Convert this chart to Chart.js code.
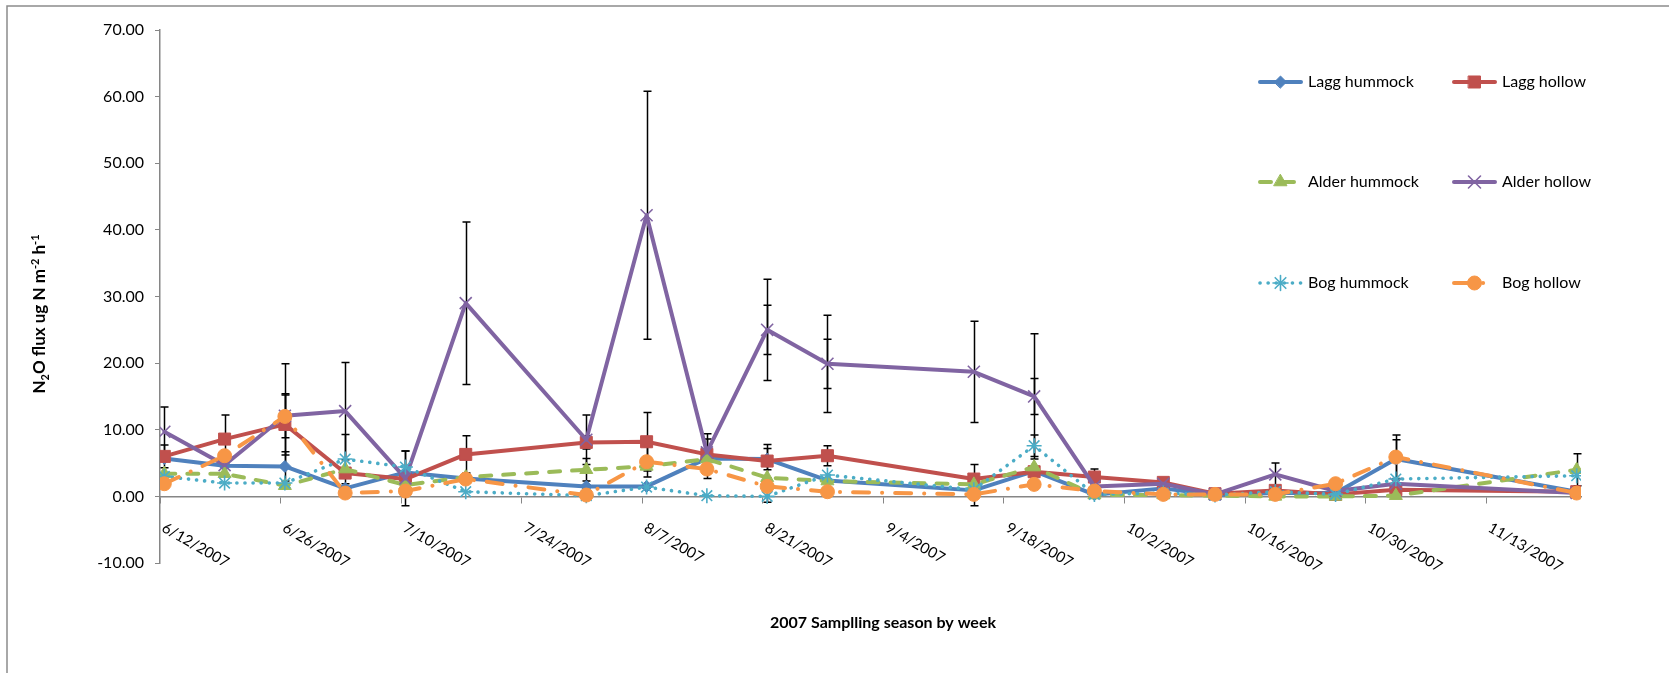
<!DOCTYPE html>
<html>
<head>
<meta charset="utf-8">
<script src="https://cdn.jsdelivr.net/npm/chart.js@4.4.0/dist/chart.umd.min.js"></script>
<style>
  html, body { margin: 0; padding: 0; background: #ffffff; }
  canvas { display: block; }
</style>
</head>
<body>
<canvas id="chart" width="1669" height="673"></canvas>
<script>
// Sampling dates (2007 season)
const sampleDates = ['6/12/2007','6/19/2007','6/26/2007','7/3/2007','7/10/2007','7/17/2007','7/31/2007',
  '8/7/2007','8/14/2007','8/21/2007','8/28/2007','9/14/2007','9/21/2007','9/28/2007','10/6/2007',
  '10/12/2007','10/19/2007','10/26/2007','11/2/2007','11/23/2007'];

// Two-week tick labels on the date axis
const tickDates = ['6/12/2007','6/26/2007','7/10/2007','7/24/2007','8/7/2007','8/21/2007','9/4/2007',
  '9/18/2007','10/2/2007','10/16/2007','10/30/2007','11/13/2007'];
const axisEndDate = '11/24/2007';

// Y axis tick values
const yTicks = [-10, 0, 10, 20, 30, 40, 50, 60, 70];

// N2O flux (ug N m-2 h-1) per site
const laggHummock  = [5.7, 4.6, 4.5, 1.2, 3.6, 2.7, 1.5, 1.5, 5.7, 5.6, 2.4, 0.9, 3.8, 0.25, 1.2, 0.2, 0.5, 0.5, 5.6, 0.7];
const laggHollow   = [6.0, 8.6, 10.8, 3.5, 2.6, 6.3, 8.1, 8.2, 6.3, 5.3, 6.1, 2.6, 3.7, 2.9, 2.1, 0.4, 0.9, 0.3, 1.0, 0.7];
const alderHummock = [3.4, 3.4, 1.6, 4.1, 1.7, 2.9, 4.0, 4.5, 5.6, 2.8, 2.3, 1.8, 4.4, 0.2, 0.2, 0.1, 0.0, 0.0, 0.1, 4.0];
const alderHollow  = [9.7, 4.7, 12.1, 12.8, 2.7, 29.0, 8.5, 42.2, 6.6, 25.0, 19.9, 18.7, 15.0, 1.5, 1.9, 0.3, 3.3, 0.8, 1.9, 0.5];
const bogHummock   = [3.0, 2.0, 2.0, 5.6, 4.4, 0.7, 0.1, 1.4, 0.1, 0.0, 3.2, 1.0, 7.6, 0.3, 0.5, 0.2, 0.7, 0.3, 2.6, 3.1];
const bogHollow    = [1.9, 6.1, 12.0, 0.5, 0.8, 2.6, 0.2, 5.2, 4.1, 1.5, 0.7, 0.3, 1.8, 0.8, 0.3, 0.3, 0.3, 1.9, 5.9, 0.5];

// Error bar half-widths (0 = not drawn)
const laggHummockErr  = [0, 0, 2.2, 0, 0, 0, 0, 0, 0, 1.6, 0, 2.3, 0, 0, 0, 0, 0, 0, 2.9, 0];
const laggHollowErr   = [1.7, 3.6, 4.6, 0, 0, 2.8, 1.0, 4.4, 2.3, 2.5, 1.5, 2.2, 0, 1.2, 0, 0, 0, 0, 0, 0];
const alderHummockErr = [0, 0, 0, 0, 0, 0, 1.7, 0, 0, 0, 0, 0, 0, 0, 0, 0, 0, 0, 0, 2.4];
const alderHollowErr  = [3.7, 0, 7.8, 7.3, 4.1, 12.2, 3.7, 18.6, 2.8, 7.6, 7.3, 7.6, 9.4, 0, 0, 0, 1.7, 0, 0, 0];
const alderHollowErr2 = [0, 0, 0, 0, 0, 0, 0, 0, 0, 3.7, 3.7, 0, 2.7, 0, 0, 0, 0, 0, 0, 0];
const bogHummockErr   = [0, 0, 0, 3.7, 2.4, 0, 0, 0, 0, 0.9, 0, 0, 1.6, 0, 0, 0, 0, 0, 0, 0];
const bogHollowErr    = [0, 0, 3.2, 0, 0, 0, 0, 2.3, 1.4, 0, 0, 0, 0, 0, 0, 0, 0, 0, 3.3, 0];

const seriesNames = ['Lagg hummock', 'Lagg hollow', 'Alder hummock', 'Alder hollow', 'Bog hummock', 'Bog hollow'];
const seriesValues = [laggHummock, laggHollow, alderHummock, alderHollow, bogHummock, bogHollow];
const seriesErrors = [[laggHummockErr], [laggHollowErr], [alderHummockErr], [alderHollowErr, alderHollowErr2], [bogHummockErr], [bogHollowErr]];

// Days since the first sampling date
const originMs = Date.UTC(2007, 5, 12);
function dayOf(s) {
  const [m, d, y] = s.split('/').map(Number);
  return Math.round((Date.UTC(y, m - 1, d) - originMs) / 86400000);
}
// a point sits in the middle of its day on the date axis
const xOfSample = sampleDates.map(s => dayOf(s) + 0.5);
const tickDays = tickDates.map(dayOf);

const FONT = 'Lato, "Open Sans", "DejaVu Sans", sans-serif';
const TEXT = '#000000';

const styles = [
  { color: '#4F81BD', dash: [], width: 4, point: 'rectRot', radius: 6, pbw: 1 },
  { color: '#C0504D', dash: [], width: 4, point: 'rect', radius: 8.5, pbw: 1 },
  { color: '#9BBB59', dash: [11, 12], width: 4, point: 'triangle', radius: 7.5, pbw: 1 },
  { color: '#8064A2', dash: [], width: 4, point: 'crossRot', radius: 8.5, pbw: 1.6 },
  { color: '#4BACC6', dash: [0.1, 8], width: 3.6, point: 'star', radius: 7.5, pbw: 1.6 },
  { color: '#F79646', dash: [16, 13, 0.1, 13], width: 4, point: 'circle', radius: 7, pbw: 1 }
];

const datasets = seriesNames.map((name, i) => ({
  label: name,
  data: seriesValues[i].map((v, k) => ({ x: xOfSample[k], y: v })),
  borderColor: styles[i].color,
  backgroundColor: styles[i].color,
  borderWidth: styles[i].width,
  borderDash: styles[i].dash,
  borderCapStyle: 'round',
  borderJoinStyle: 'round',
  pointStyle: styles[i].point,
  pointRadius: styles[i].radius,
  pointBorderWidth: styles[i].pbw,
  pointBackgroundColor: styles[i].color,
  pointBorderColor: styles[i].color,
  tension: 0,
  fill: false,
  order: seriesNames.length - 1 - i,
  errors: seriesErrors[i]
}));

// Sheet background with the frame on the left and top
const frame = {
  id: 'frame',
  beforeDraw(chart) {
    const ctx = chart.ctx;
    ctx.save();
    ctx.fillStyle = '#ffffff';
    ctx.fillRect(0, 0, chart.width, chart.height);
    ctx.strokeStyle = '#8c8c8c';
    ctx.lineWidth = 1.5;
    ctx.beginPath();
    ctx.moveTo(7, chart.height);
    ctx.lineTo(7, 6);
    ctx.lineTo(chart.width, 6);
    ctx.stroke();
    ctx.restore();
  }
};

// Black error bars with caps, drawn under the lines and markers
const errorBars = {
  id: 'errorBars',
  beforeDatasetsDraw(chart) {
    const ctx = chart.ctx;
    const xs = chart.scales.x, ys = chart.scales.y;
    ctx.save();
    ctx.strokeStyle = '#000000';
    ctx.lineWidth = 1.5;
    ctx.setLineDash([]);
    chart.data.datasets.forEach(ds => {
      ds.errors.forEach(errArr => {
        errArr.forEach((e, k) => {
          if (!e) return;
          const v = ds.data[k].y;
          const px = Math.round(xs.getPixelForValue(ds.data[k].x)) + 0.5;
          const top = ys.getPixelForValue(v + e);
          const bot = ys.getPixelForValue(v - e);
          ctx.beginPath();
          ctx.moveTo(px, top); ctx.lineTo(px, bot);
          ctx.moveTo(px - 4, top); ctx.lineTo(px + 4, top);
          ctx.moveTo(px - 4, bot); ctx.lineTo(px + 4, bot);
          ctx.stroke();
        });
      });
    });
    ctx.restore();
  }
};

// Slanted date labels, axis titles and the legend
const annotations = {
  id: 'annotations',
  afterDraw(chart) {
    const ctx = chart.ctx;
    const xs = chart.scales.x;
    ctx.save();

    // date labels
    ctx.fillStyle = TEXT;
    ctx.font = '15px ' + FONT;
    ctx.textAlign = 'left';
    ctx.textBaseline = 'top';
    tickDates.forEach((label, i) => {
      const px = xs.getPixelForValue(tickDays[i]);
      ctx.save();
      ctx.translate(px + 7, 520);
      ctx.rotate(Math.PI / 6);
      ctx.fillText(label, 0, 0);
      ctx.restore();
    });

    // x axis title
    ctx.font = 'bold 16px ' + FONT;
    ctx.textAlign = 'center';
    ctx.textBaseline = 'middle';
    ctx.fillText('2007 Samplling season by week', 883, 623);

    // y axis title with sub- and superscripts
    const parts = [
      { t: 'N', size: 17, dy: 0 },
      { t: '2', size: 11, dy: 3.5 },
      { t: 'O flux ug N m', size: 17, dy: 0 },
      { t: '-2', size: 11, dy: -6.5 },
      { t: ' h', size: 17, dy: 0 },
      { t: '-1', size: 11, dy: -6.5 }
    ];
    let total = 0;
    parts.forEach(p => { ctx.font = 'bold ' + p.size + 'px ' + FONT; p.w = ctx.measureText(p.t).width; total += p.w; });
    ctx.save();
    ctx.translate(45, 314);
    ctx.rotate(-Math.PI / 2);
    ctx.textAlign = 'left';
    ctx.textBaseline = 'alphabetic';
    let cx = -total / 2;
    parts.forEach(p => {
      ctx.font = 'bold ' + p.size + 'px ' + FONT;
      ctx.fillText(p.t, cx, p.dy);
      cx += p.w;
    });
    ctx.restore();

    // legend: two columns, three rows
    const colLine = [1258, 1452];
    const rowY = [82, 182, 283];
    chart.data.datasets.forEach((ds, i) => {
      const col = i % 2, row = Math.floor(i / 2);
      const x0 = colLine[col], x1 = x0 + 45, y = rowY[row];
      ctx.save();
      ctx.strokeStyle = ds.borderColor;
      ctx.lineWidth = ds.borderWidth;
      ctx.lineCap = 'round';
      ctx.setLineDash(ds.borderDash);
      ctx.beginPath();
      ctx.moveTo(x0 + 2, y);
      ctx.lineTo(x1 - 2, y);
      ctx.stroke();
      ctx.setLineDash([]);
      ctx.fillStyle = ds.pointBackgroundColor;
      ctx.strokeStyle = ds.pointBorderColor;
      ctx.lineWidth = ds.pointBorderWidth;
      Chart.helpers.drawPoint(ctx, {
        pointStyle: ds.pointStyle,
        radius: ds.pointRadius,
        rotation: 0,
        borderWidth: ds.pointBorderWidth
      }, (x0 + x1) / 2, y);
      ctx.restore();
      ctx.fillStyle = TEXT;
      ctx.font = '16px ' + FONT;
      ctx.textAlign = 'left';
      ctx.textBaseline = 'middle';
      ctx.fillText(ds.label, x1 + 5, y);
    });

    ctx.restore();
  }
};

new Chart(document.getElementById('chart'), {
  type: 'line',
  data: { datasets },
  plugins: [frame, errorBars, annotations],
  options: {
    responsive: false,
    animation: false,
    devicePixelRatio: 1,
    layout: { padding: { left: 60, top: 30, right: 88, bottom: 110 } },
    plugins: { legend: { display: false }, tooltip: { enabled: false } },
    scales: {
      x: {
        type: 'linear',
        position: { y: 0 },
        min: 0,
        max: dayOf(axisEndDate),
        afterBuildTicks(scale) { scale.ticks = tickDays.map(v => ({ value: v })); },
        ticks: { display: false },
        grid: { drawOnChartArea: false, drawTicks: true, tickLength: 6, color: '#868686', lineWidth: 1 },
        border: { display: true, color: '#868686', width: 1.5 }
      },
      y: {
        type: 'linear',
        position: 'left',
        min: yTicks[0],
        max: yTicks[yTicks.length - 1],
        afterFit(scale) { scale.width = 100; },
        afterBuildTicks(scale) { scale.ticks = yTicks.map(v => ({ value: v })); },
        ticks: {
          callback: v => Number(v).toFixed(2),
          font: { family: FONT, size: 16 },
          color: TEXT,
          padding: 11
        },
        grid: { drawOnChartArea: false, drawTicks: true, tickLength: 5, color: '#868686', lineWidth: 1 },
        border: { display: true, color: '#868686', width: 1.5 }
      }
    }
  }
});
</script>
</body>
</html>
